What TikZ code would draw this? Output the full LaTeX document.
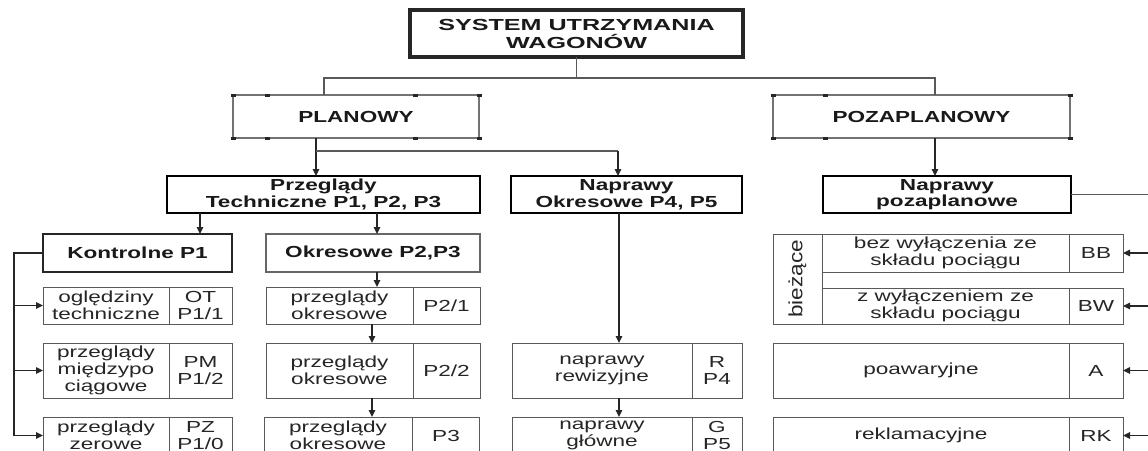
\documentclass[tikz,border=0pt]{standalone}
\usepackage{fontspec}
\usepackage{graphicx}
\setmainfont{Liberation Sans}
\newfontfamily\wf{Liberation Sans}[FakeStretch=1.41]
\newfontfamily\tf{Liberation Sans}[FakeStretch=1.57]
\usetikzlibrary{arrows.meta}
\begin{document}
\begin{tikzpicture}[x=1pt,y=-1pt,
  box/.style={draw, rectangle, inner sep=0pt, outer sep=0pt, align=center},
  titlebox/.style={box, draw=black!85, line width=3.2pt, text=black!90,
    font={\tf\bfseries\fontsize{16}{18}\selectfont}},
  headthick/.style={box, draw=black, line width=2.8pt, text=black!90,
    font={\wf\bfseries\fontsize{16}{16.5}\selectfont}},
  headmid/.style={box, draw=black!85, line width=1.8pt, text=black!90,
    font={\wf\bfseries\fontsize{16}{17}\selectfont}},
  headthin/.style={box, draw=black!60, line width=1.1pt, text=black!90,
    font={\wf\bfseries\fontsize{16}{17}\selectfont}},
  headgray/.style={box, draw=black!55, line width=1.2pt, text=black!90,
    font={\wf\bfseries\fontsize{16}{17}\selectfont}},
  cell/.style={box, draw=black!65, line width=0.9pt, text=black!85,
    font={\wf\fontsize{16}{17}\selectfont}},
  link/.style={draw=black!65, line width=1.1pt},
  arr/.style={draw=black!85, line width=1.3pt, -{Triangle[length=7pt,width=6.5pt]}},
  tick/.style={fill=black!85}
]
\useasboundingbox (0,0) rectangle (1148,450);
\clip (0,0) rectangle (1148,450);
\fill[white] (0,0) rectangle (1148,450);

% ---- top levels
\node[titlebox, minimum width=333pt, minimum height=47pt] (sys) at (576.5,33.5) {SYSTEM UTRZYMANIA\\WAGONÓW};
\node[headgray, minimum width=246pt, minimum height=43pt] (PL) at (356,116.5) {PLANOWY};
\node[headgray, minimum width=297pt, minimum height=43pt] (PZ) at (921.5,116.5) {POZAPLANOWY};
\draw[black!55, line width=2.2pt] (PL.north west) -- (PL.south west) (PL.north east) -- (PL.south east)
  (PZ.north west) -- (PZ.south west) (PZ.north east) -- (PZ.south east);
\foreach \x in {233,267,415,479} {\fill[tick] (\x-2.5,94) rectangle (\x+2.5,96.5); \fill[tick] (\x-2.5,137) rectangle (\x+2.5,139.5);}
\foreach \x in {773,825,1070} {\fill[tick] (\x-2.5,94) rectangle (\x+2.5,96.5); \fill[tick] (\x-2.5,137) rectangle (\x+2.5,139.5);}

\node[headthick, minimum width=313pt, minimum height=37pt] (PT) at (323.5,194.5) {Przeglądy\\Techniczne P1, P2, P3};
\node[headthick, minimum width=231pt, minimum height=37pt] (NO) at (626.5,194.5) {Naprawy\\Okresowe P4, P5};
\node[headthick, minimum width=248pt, minimum height=37pt] (NP) at (947,194.5) {Naprawy\\pozaplanowe};

\node[headmid, minimum width=189pt, minimum height=38pt] (K) at (137.5,253) {Kontrolne P1};
\node[headthin, minimum width=214pt, minimum height=38pt] (OK) at (373,253) {Okresowe P2,P3};

% ---- left column
\node[cell, minimum width=126pt, minimum height=37pt] (la1) at (106,305.5) {oględziny\\techniczne};
\node[cell, minimum width=63pt, minimum height=37pt] (lb1) at (200.5,305.5) {OT\\P1/1};
\node[cell, minimum width=126pt, minimum height=55pt] (la2) at (106,370.5) {przeglądy\\międzypo\\ciągowe};
\node[cell, minimum width=63pt, minimum height=55pt] (lb2) at (200.5,370.5) {PM\\P1/2};
\node[cell, minimum width=126pt, minimum height=37pt] (la3) at (106,435.5) {przeglądy\\zerowe};
\node[cell, minimum width=63pt, minimum height=37pt] (lb3) at (200.5,435.5) {PZ\\P1/0};

% ---- middle column
\node[cell, minimum width=147pt, minimum height=37pt] (ma1) at (339.5,305.5) {przeglądy\\okresowe};
\node[cell, minimum width=67pt, minimum height=37pt] (mb1) at (446.5,305.5) {P2/1};
\node[cell, minimum width=147pt, minimum height=55pt] (ma2) at (339.5,370.5) {przeglądy\\okresowe};
\node[cell, minimum width=67pt, minimum height=55pt] (mb2) at (446.5,370.5) {P2/2};
\node[cell, minimum width=148pt, minimum height=37pt] (ma3) at (338,435.5) {przeglądy\\okresowe};
\node[cell, minimum width=67pt, minimum height=37pt] (mb3) at (446,435.5) {P3};

% ---- naprawy okresowe column
\node[cell, minimum width=180pt, minimum height=55pt] (na2) at (602,370.5) {naprawy\\rewizyjne};
\node[cell, minimum width=50pt, minimum height=55pt] (nb2) at (717,370.5) {R\\P4};
\node[cell, minimum width=180pt, minimum height=37pt] (na3) at (602,435.5) {naprawy\\główne};
\node[cell, minimum width=50pt, minimum height=37pt] (nb3) at (717,435.5) {G\\P5};

% ---- right column
\node[cell, minimum width=49pt, minimum height=90pt] (bl) at (797.5,279)
  {\rotatebox{90}{\scalebox{1}[1.2]{\fontsize{16}{17}\selectfont bieżące}}};
\node[cell, minimum width=247pt, minimum height=38pt] (ba1) at (945.5,253) {bez wyłączenia ze\\składu pociągu};
\node[cell, minimum width=54pt, minimum height=38pt] (bb1) at (1096,253) {BB};
\node[cell, minimum width=247pt, minimum height=36pt] (ba2) at (945.5,306) {z wyłączeniem ze\\składu pociągu};
\node[cell, minimum width=54pt, minimum height=36pt] (bb2) at (1096,306) {BW};
\node[cell, minimum width=296pt, minimum height=55pt] (ra) at (921,370.5) {poawaryjne};
\node[cell, minimum width=54pt, minimum height=55pt] (rb) at (1096,370.5) {A};
\node[cell, minimum width=296pt, minimum height=37pt] (ka) at (921,435.5) {reklamacyjne};
\node[cell, minimum width=54pt, minimum height=37pt] (kb) at (1096,435.5) {RK};

% ---- helper x positions
\coordinate (xa) at (324,0);
\coordinate (xb) at (316,0);
\coordinate (xc) at (618,0);
\coordinate (xd) at (935,0);
\coordinate (xe) at (200,0);
\coordinate (xf) at (377,0);
\coordinate (xg) at (372,0);
\coordinate (xh) at (619,0);
\coordinate (lbus) at (14,0);
\coordinate (rbus) at (1153,0);
\coordinate (j0) at (576.5,78);
\coordinate (j1) at (316,151);

% ---- connectors
\draw[link] (sys.south) -- (j0);
\draw[link] (j0) -| (PL.north -| xa);
\draw[link] (j0) -| (PZ.north -| xd);
\draw[arr] (PL.south -| xb) -- (PT.north -| xb);
\draw[link] (j1) -- (j1 -| xc);
\draw[arr] (j1 -| xc) -- (NO.north -| xc);
\draw[arr] (PZ.south -| xd) -- (NP.north -| xd);

\draw[arr] (PT.south -| xe) -- (K.north -| xe);
\draw[arr] (PT.south -| xf) -- (OK.north -| xf);

\draw[arr] (K.west) -| (la3.west -| lbus) -- (la3.west);
\draw[arr] (la1.west -| lbus) -- (la1.west);
\draw[arr] (la2.west -| lbus) -- (la2.west);

\draw[arr] (OK.south -| xf) -- (ma1.north -| xf);
\draw[arr] (ma1.south -| xg) -- (ma2.north -| xg);
\draw[arr] (ma2.south -| xg) -- (ma3.north -| xg);

\draw[arr] (NO.south -| xh) -- (na2.north -| xh);
\draw[arr] (na2.south -| xh) -- (na3.north -| xh);

\draw[link] (NP.east) -- (NP.east -| rbus) -- (kb.east -| rbus);
\draw[arr] (bb1.east -| rbus) -- (bb1.east);
\draw[arr] (bb2.east -| rbus) -- (bb2.east);
\draw[arr] (rb.east -| rbus) -- (rb.east);
\draw[arr] (kb.east -| rbus) -- (kb.east);
\end{tikzpicture}
\end{document}
